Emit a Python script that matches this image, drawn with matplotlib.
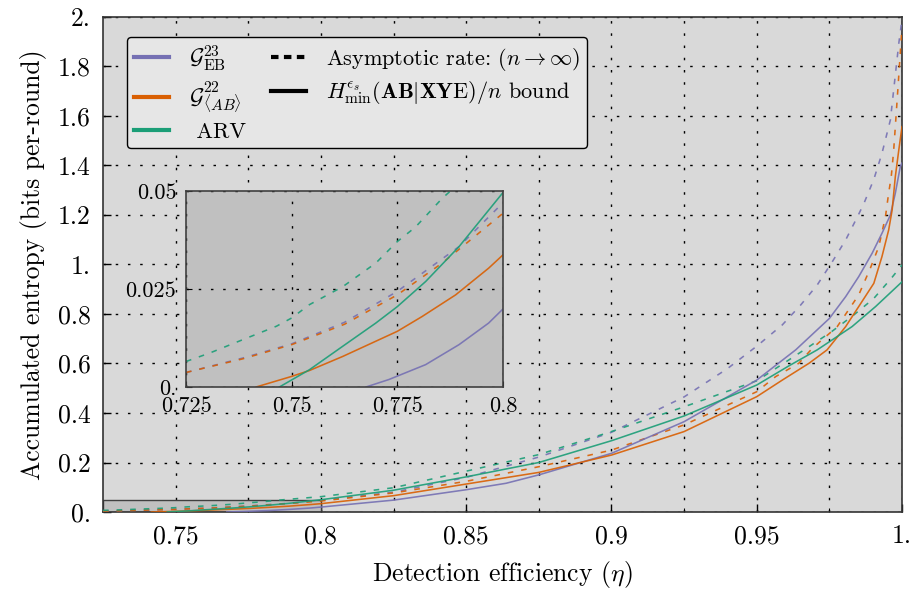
import matplotlib
matplotlib.use("Agg")
import matplotlib.pyplot as plt
from matplotlib.lines import Line2D
from matplotlib.patches import Rectangle

plt.rcParams['font.family'] = ['cmr10', 'DejaVu Serif']
plt.rcParams['mathtext.fontset'] = 'cm'
plt.rcParams['axes.unicode_minus'] = False

# data (eta, entropy in bits per round)
eta_eb_asym = [0.725, 0.7385, 0.75, 0.7625, 0.775, 0.7896, 0.8, 0.825, 0.85, 0.875, 0.9, 0.925,
               0.94, 0.95, 0.9588, 0.9651, 0.9708, 0.976, 0.9806, 0.9848, 0.9869, 0.9903, 0.9931,
               0.996, 0.9989, 1.0]
h_eb_asym = [0.0037, 0.0074, 0.011, 0.0165, 0.0244, 0.0358, 0.047, 0.080, 0.140, 0.222, 0.322, 0.465,
             0.58, 0.67, 0.756, 0.836, 0.917, 1.011, 1.099, 1.196, 1.247, 1.344, 1.449,
             1.584, 1.894, 1.99]

eta_ab_asym = [0.725, 0.7385, 0.75, 0.7625, 0.775, 0.7856, 0.8, 0.825, 0.85, 0.875, 0.9, 0.925, 0.95,
               0.9565, 0.9645, 0.9691, 0.9777, 0.9851, 0.9891, 0.992, 0.9943, 0.9954, 0.9963, 0.9971,
               0.9977, 0.9987, 1.0]
h_ab_asym = [0.0037, 0.0072, 0.0108, 0.016, 0.0235, 0.0316, 0.0443, 0.077, 0.124, 0.183, 0.25, 0.352,
             0.486, 0.547, 0.601, 0.661, 0.749, 0.877, 0.985, 1.072, 1.193, 1.288, 1.355, 1.456,
             1.557, 1.73, 1.96]

eta_arv_asym = [0.725, 0.7307, 0.7385, 0.7464, 0.75, 0.7542, 0.7621, 0.7699, 0.775, 0.7793, 0.7856, 0.8,
                0.825, 0.85, 0.875, 0.9, 0.925, 0.95, 0.961, 0.968, 0.9758, 0.9834, 0.9903, 0.9963, 1.0]
h_arv_asym = [0.0065, 0.0087, 0.0121, 0.0155, 0.0176, 0.021, 0.0256, 0.0316, 0.0371, 0.0408, 0.0481, 0.062,
              0.098, 0.165, 0.232, 0.325, 0.425, 0.53, 0.614, 0.668, 0.729, 0.796, 0.863, 0.944, 0.998]

eta_eb_fin = [0.7676, 0.773, 0.7817, 0.7896, 0.7966, 0.8, 0.825, 0.85, 0.8637, 0.875, 0.9, 0.925, 0.95,
              0.9634, 0.975, 0.9806, 0.9851, 0.9897, 0.9931, 0.996, 0.9977, 0.9994, 1.0]
h_eb_fin = [0.0, 0.0019, 0.0057, 0.0108, 0.0163, 0.0199, 0.048, 0.090, 0.116, 0.150, 0.237, 0.365, 0.533,
            0.655, 0.782, 0.870, 0.951, 1.045, 1.126, 1.2, 1.288, 1.395, 1.41]

eta_ab_fin = [0.7416, 0.75, 0.7542, 0.7621, 0.775, 0.7809, 0.7888, 0.7966, 0.8, 0.825, 0.85, 0.875, 0.9,
              0.925, 0.95, 0.9588, 0.968, 0.9742, 0.9806, 0.9851, 0.9903, 0.9931, 0.9954, 0.9966, 0.9977,
              0.9989, 1.0]
h_ab_fin = [0.0, 0.0027, 0.0042, 0.0078, 0.0142, 0.018, 0.0235, 0.0303, 0.0337, 0.066, 0.113, 0.160, 0.230,
            0.325, 0.466, 0.533, 0.601, 0.655, 0.749, 0.830, 0.924, 1.032, 1.139, 1.22, 1.355,
            1.463, 1.557]

eta_arv_fin = [0.7471, 0.7542, 0.7621, 0.7699, 0.775, 0.7817, 0.7896, 0.8, 0.825, 0.85, 0.875, 0.9, 0.925,
               0.95, 0.961, 0.9708, 0.9828, 0.9909, 1.0]
h_arv_fin = [0.0, 0.0044, 0.0104, 0.0163, 0.0205, 0.0269, 0.0358, 0.0496, 0.088, 0.142, 0.200, 0.288, 0.388,
             0.513, 0.59, 0.655, 0.749, 0.830, 0.93]

xticks_main = [0.75, 0.8, 0.85, 0.9, 0.95, 1.0]
xlabels_main = ["0.75", "0.8", "0.85", "0.9", "0.95", "1."]
yticks_main = [0, 0.2, 0.4, 0.6, 0.8, 1.0, 1.2, 1.4, 1.6, 1.8, 2.0]
ylabels_main = ["0.", "0.2", "0.4", "0.6", "0.8", "1.", "1.2", "1.4", "1.6", "1.8", "2."]
xticks_inset = [0.725, 0.75, 0.775, 0.8]
xlabels_inset = ["0.725", "0.75", "0.775", "0.8"]
yticks_inset = [0, 0.025, 0.05]
ylabels_inset = ["0.", "0.025", "0.05"]

c_eb = "#7570b3"
c_ab = "#d95f02"
c_arv = "#1b9e77"
dash = (0, (3.5, 5))
grid_ls = (0, (1.8, 7))

series = [
    (eta_eb_asym, h_eb_asym, c_eb, dash),
    (eta_ab_asym, h_ab_asym, c_ab, dash),
    (eta_arv_asym, h_arv_asym, c_arv, dash),
    (eta_eb_fin, h_eb_fin, c_eb, '-'),
    (eta_ab_fin, h_ab_fin, c_ab, '-'),
    (eta_arv_fin, h_arv_fin, c_arv, '-'),
]

fig = plt.figure(figsize=(9.15, 5.9), dpi=100)
ax = fig.add_axes([0.1126, 0.1322, 0.8732, 0.839])
ax.set_facecolor("#d9d9d9")
for x, y, c, ls in series:
    ax.plot(x, y, color=c, ls=ls, lw=1.15, alpha=0.9, zorder=3)
ax.add_patch(Rectangle((0.725, 0), 0.075, 0.05, facecolor="#c0c0c0", edgecolor="#404040", lw=1.0, zorder=2))
ax.set_xlim(0.725, 1.0)
ax.set_ylim(0, 2.0)
ax.set_xticks(xticks_main)
ax.set_xticklabels(xlabels_main)
ax.set_xticks([0.775, 0.825, 0.875, 0.925, 0.975], minor=True)
ax.set_yticks(yticks_main)
ax.set_yticklabels(ylabels_main)
ax.tick_params(which='major', direction='in', length=6, width=1, labelsize=18.5, pad=9)
ax.tick_params(which='minor', direction='in', length=3, width=0.8)
ax.grid(True, which='both', color='black', ls=grid_ls, lw=1.0)
ax.set_axisbelow(True)
for s in ax.spines.values():
    s.set_color("#333333")
    s.set_linewidth(1.2)
ax.set_xlabel(r"Detection efficiency ($\eta$)", fontsize=18.5, labelpad=8)
ax.set_ylabel("Accumulated entropy (bits per-round)", fontsize=18.5, labelpad=8)

handles = [
    Line2D([], [], color=c_eb, lw=3),
    Line2D([], [], color=c_ab, lw=3),
    Line2D([], [], color=c_arv, lw=3),
    Line2D([], [], color='black', lw=3, ls=(0, (1.8, 1.3))),
    Line2D([], [], color='black', lw=3),
    Line2D([], [], color='none'),
]
labels = [
    r"$\mathcal{G}_{\mathrm{EB}}^{23}$",
    r"$\mathcal{G}_{\langle AB\rangle}^{22}$",
    " ARV",
    r"Asymptotic rate: $(n\rightarrow\infty)$",
    r"$H_{\min}^{\epsilon_s}(\mathbf{AB}|\mathbf{XY}\mathrm{E})/n$ bound",
    "",
]
leg = ax.legend(handles, labels, ncol=2, loc='upper left', bbox_to_anchor=(0.03, 0.96),
                borderaxespad=0, fontsize=16, handlelength=1.6, labelspacing=0.3,
                columnspacing=1.1, handletextpad=0.9, borderpad=0.3, fancybox=True, framealpha=1,
                facecolor="#e6e6e6", edgecolor='black')
leg.get_frame().set_linewidth(1.0)

axin = fig.add_axes([0.2033, 0.3441, 0.3464, 0.3322])
axin.set_facecolor("#c0c0c0")
for x, y, c, ls in series:
    axin.plot(x, y, color=c, ls=ls, lw=1.15, alpha=0.9)
axin.set_xlim(0.725, 0.8)
axin.set_ylim(0, 0.05)
axin.set_xticks(xticks_inset)
axin.set_xticklabels(xlabels_inset)
axin.set_yticks(yticks_inset)
axin.set_yticklabels(ylabels_inset)
axin.tick_params(direction='in', length=4, labelsize=16, pad=7)
axin.grid(True, color='black', ls=grid_ls, lw=1.0)
for s in axin.spines.values():
    s.set_color("#404040")
    s.set_linewidth(1.2)

fig.savefig("out.png", dpi=100)
